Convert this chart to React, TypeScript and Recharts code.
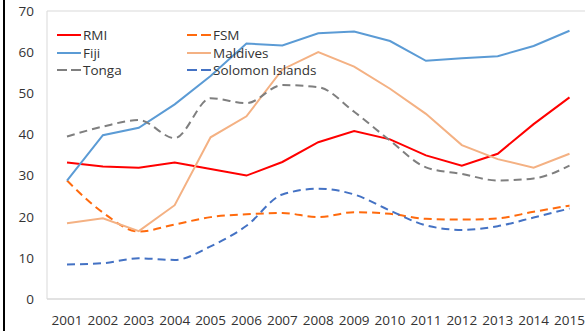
import React from 'react';
import { LineChart, Line, XAxis, YAxis, ReferenceLine } from 'recharts';

const years = ['2001', '2002', '2003', '2004', '2005', '2006', '2007', '2008', '2009', '2010', '2011', '2012', '2013', '2014', '2015'];
const rmi = [33.2, 32.2, 31.9, 33.2, 31.6, 30.0, 33.3, 38.1, 40.8, 38.8, 34.9, 32.4, 35.3, 42.5, 49.0];
const fsm = [28.8, 21.0, 16.4, 18.1, 19.9, 20.6, 20.9, 19.9, 21.1, 20.7, 19.5, 19.3, 19.6, 21.2, 22.7];
const fiji = [28.8, 39.8, 41.6, 47.3, 54.2, 62.1, 61.6, 64.6, 65.0, 62.7, 57.9, 58.5, 59.0, 61.5, 65.2];
const maldives = [18.4, 19.6, 16.5, 22.8, 39.3, 44.4, 55.8, 60.0, 56.5, 51.1, 45.0, 37.4, 34.0, 31.9, 35.3];
const tonga = [39.5, 41.9, 43.5, 39.1, 48.8, 47.6, 52.0, 51.5, 45.5, 38.5, 32.0, 30.4, 28.8, 29.3, 32.4];
const solomon = [8.4, 8.7, 9.9, 9.5, 12.8, 17.8, 25.4, 26.8, 25.4, 21.5, 17.9, 16.8, 17.7, 19.8, 22.0];
const yTicks = [0, 10, 20, 30, 40, 50, 60, 70];

const series = [
  { key: 'RMI', values: rmi, color: '#ff0000', dashed: false },
  { key: 'FSM', values: fsm, color: '#ff6a0d', dashed: true },
  { key: 'Fiji', values: fiji, color: '#5b9bd5', dashed: false },
  { key: 'Maldives', values: maldives, color: '#f4b183', dashed: false },
  { key: 'Tonga', values: tonga, color: '#7f7f7f', dashed: true },
  { key: 'Solomon Islands', values: solomon, color: '#4472c4', dashed: true },
];

const data = years.map((year, i) => {
  const row: { [k: string]: string | number } = { year };
  series.forEach(s => { row[s.key] = s.values[i]; });
  return row;
});

const font = '"Open Sans", sans-serif';
const textColor = '#333333';

const LegendBox = () => (
  <div style={{ position: 'absolute', left: 57, top: 26, width: 280, display: 'grid', gridTemplateColumns: '130px 150px', rowGap: 0, fontFamily: font, fontSize: 13.5, color: textColor }}>
    {series.map(s => (
      <div key={s.key} style={{ display: 'flex', alignItems: 'center', height: 17.7 }}>
        <svg width={25} height={4} style={{ marginRight: 1 }}>
          <line x1={0} y1={2} x2={24} y2={2} stroke={s.color} strokeWidth={2} strokeDasharray={s.dashed ? '10 4' : undefined} />
        </svg>
        <span>{s.key}</span>
      </div>
    ))}
  </div>
);

export default function App() {
  return (
    <div style={{ position: 'absolute', left: 0, top: 0, width: 585, height: 331, overflow: 'hidden', background: '#fff' }}>
      <div style={{ position: 'absolute', left: 3, top: 0, width: 2, height: 331, background: '#000' }} />
      <LineChart width={588} height={331} data={data} margin={{ top: 11, right: 0, left: 0, bottom: 0 }}>
        <XAxis
          dataKey="year"
          height={32}
          padding={{ left: 20, right: 18.5 }}
          axisLine={{ stroke: '#d9d9d9', strokeWidth: 1.5 }}
          tickLine={false}
          tickSize={0}
          tickMargin={16}
          interval={0}
          tick={{ fill: textColor, fontSize: 13.5, fontFamily: font }}
        />
        <YAxis
          width={47}
          domain={[0, 70]}
          ticks={yTicks}
          axisLine={{ stroke: '#d9d9d9' }}
          tickLine={false}
          tickSize={0}
          tickMargin={13}
          tick={{ fill: textColor, fontSize: 13.5, fontFamily: font }}
        />
        <ReferenceLine y={70} stroke="#d9d9d9" />
        {series.map(s => (
          <Line
            key={s.key}
            dataKey={s.key}
            type={s.dashed ? 'monotone' : 'linear'}
            stroke={s.color}
            strokeWidth={2}
            strokeDasharray={s.dashed ? '8 5' : undefined}
            dot={false}
            activeDot={false}
            isAnimationActive={false}
          />
        ))}
      </LineChart>
      <LegendBox />
    </div>
  );
}
